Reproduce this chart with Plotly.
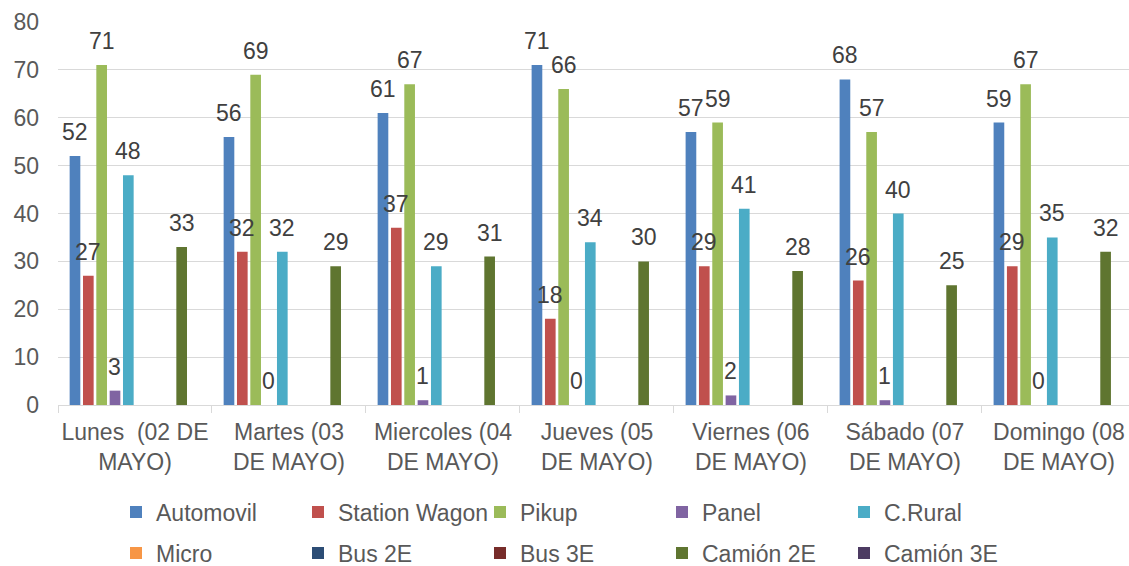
import plotly.graph_objects as go

# Días de conteo (etiquetas del eje X, en dos líneas)
dias = [
    "Lunes \u00a0(02 DE<br>MAYO)",
    "Martes (03<br>DE MAYO)",
    "Miercoles (04<br>DE MAYO)",
    "Jueves (05<br>DE MAYO)",
    "Viernes (06<br>DE MAYO)",
    "Sábado (07<br>DE MAYO)",
    "Domingo (08<br>DE MAYO)",
]

# Conteo vehicular por tipo de vehículo
automovil = [52, 56, 61, 71, 57, 68, 59]
station_wagon = [27, 32, 37, 18, 29, 26, 29]
pikup = [71, 69, 67, 66, 59, 57, 67]
panel = [3, 0, 1, 0, 2, 1, 0]
c_rural = [48, 32, 29, 34, 41, 40, 35]
micro = [None] * 7
bus_2e = [None] * 7
bus_3e = [None] * 7
camion_2e = [33, 29, 31, 30, 28, 25, 32]
camion_3e = [None] * 7

series = [
    ("Automovil", automovil, "#4F81BD"),
    ("Station Wagon", station_wagon, "#C0504D"),
    ("Pikup", pikup, "#9BBB59"),
    ("Panel", panel, "#8064A2"),
    ("C.Rural", c_rural, "#4BACC6"),
    ("Micro", micro, "#F79646"),
    ("Bus 2E", bus_2e, "#2C4D75"),
    ("Bus 3E", bus_3e, "#772C2A"),
    ("Camión 2E", camion_2e, "#5F7530"),
    ("Camión 3E", camion_3e, "#4D3B62"),
]

W, H = 1129, 566
M_L, M_R, M_T, M_B = 58, 0, 22, 161
X_RANGE = [-0.5, 6.455]
BARGAP = 0.134
BARGROUPGAP = 0.2

FONT = "Liberation Sans, Arial, sans-serif"
GRIS = "#595959"
GRID = "#d9d9d9"

# ancho en píxeles de cada categoría y de cada hueco del grupo
cat_px = (W - M_L - M_R) / (X_RANGE[1] - X_RANGE[0])
slot_px = cat_px * (1 - BARGAP) / len(series)

fig = go.Figure()
annotations = []
for i, (nombre, valores, color) in enumerate(series):
    fig.add_trace(go.Bar(
        name=nombre,
        x=dias,
        y=valores,
        marker=dict(color=color, line=dict(width=0)),
        legend="legend" if i < 5 else "legend2",
        hoverinfo="x+y+name",
    ))
    offset = (i - (len(series) - 1) / 2) * slot_px
    for dia, v in zip(dias, valores):
        if v is None:
            continue
        annotations.append(dict(
            x=dia, y=v, xref="x", yref="y",
            text=str(v), showarrow=False,
            xshift=offset, yshift=24, yanchor="middle",
            font=dict(family=FONT, size=23, color="#404040"),
        ))

# columnas de la leyenda cada ~182 px (entrywidth no incluye el símbolo)
legend_common = dict(
    orientation="h",
    xref="container", yref="container",
    x=116 / W, xanchor="left",
    yanchor="middle",
    entrywidth=137, entrywidthmode="pixels",
    font=dict(family=FONT, size=23, color=GRIS),
    bgcolor="rgba(0,0,0,0)",
    traceorder="normal",
)

fig.update_layout(
    width=W, height=H,
    margin=dict(l=M_L, r=M_R, t=M_T, b=M_B, pad=0),
    paper_bgcolor="white", plot_bgcolor="white",
    font=dict(family=FONT, size=23, color=GRIS),
    barmode="group",
    bargap=BARGAP,
    bargroupgap=BARGROUPGAP,
    showlegend=True,
    legend=dict(legend_common, y=1 - 512 / H),
    legend2=dict(legend_common, y=1 - 553 / H),
    annotations=annotations,
    xaxis=dict(
        type="category",
        range=X_RANGE,
        showgrid=False,
        showline=True, linecolor=GRID, linewidth=1,
        ticks="outside", tickson="boundaries", ticklen=7,
        tickcolor=GRID, tickwidth=1,
        tickangle=0,
        ticklabelstandoff=6,
        tickfont=dict(family=FONT, size=23, color=GRIS),
    ),
    yaxis=dict(
        range=[0, 80], dtick=10,
        showgrid=True, gridcolor=GRID, gridwidth=1,
        zeroline=False, showline=False,
        ticks="", ticklabelstandoff=18,
        tickfont=dict(family=FONT, size=23, color=GRIS),
    ),
)

fig.write_html("out.html")
